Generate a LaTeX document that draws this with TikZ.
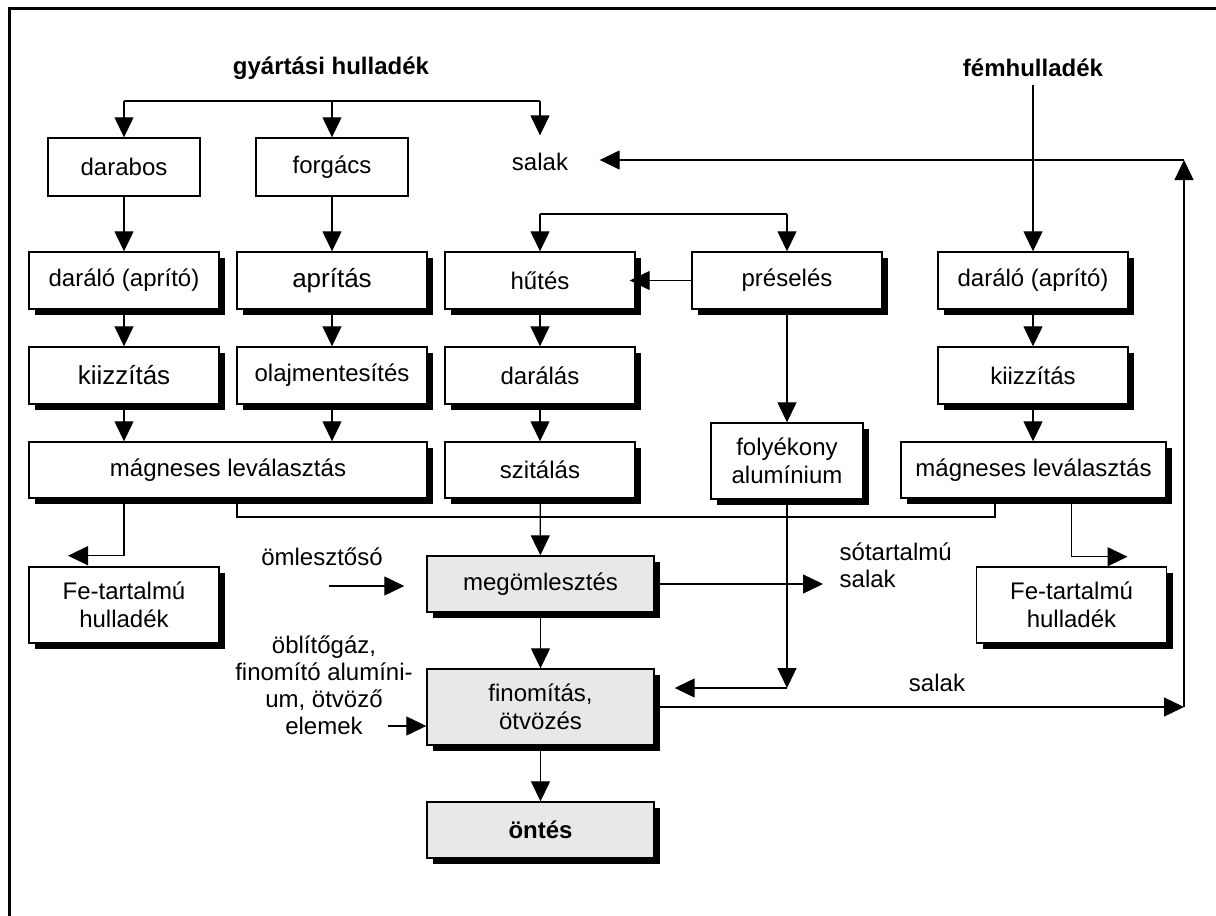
\documentclass[tikz,border=0pt]{standalone}
\usepackage{fontspec}
\setmainfont{Liberation Sans}
\usetikzlibrary{arrows.meta,shadows}
\definecolor{boxgray}{gray}{0.91}
\tikzset{
  box/.style={draw, line width=0.7pt, fill=white, inner sep=0pt, align=center,
    minimum width=95pt, minimum height=28.5pt, font=\fontsize{12}{14}\selectfont},
  shbox/.style={box, drop shadow={fill=black, opacity=1, shadow xshift=3pt, shadow yshift=-3pt}},
  graybox/.style={shbox, fill=boxgray, minimum width=113.5pt},
  big/.style={font=\fontsize{13}{15}\selectfont},
  txt/.style={inner sep=0pt, align=center, font=\fontsize{12}{13.5}\selectfont},
  head/.style={txt, inner sep=3.5pt, font=\fontsize{12}{14}\selectfont\bfseries},
  arr/.style={-{Triangle[width=9.5pt,length=10pt]}}
}
\begin{document}
\begin{tikzpicture}[x=0.5pt,y=-0.5pt,line width=0.65pt]
    \useasboundingbox (0,0) rectangle (1216,916);
    % Frame
    \draw[line width=1.5pt] (9,916) |- (1216,8);

    % Sources
    \node[head] (gyartasi) at (331,68) {gyártási hulladék};
    \node[head] (femhull) at (1033,68) {fémhulladék};

    % First row
    \node[box, minimum width=76pt, minimum height=29pt] (darabos) at (124,167) {darabos};
    \node[box, minimum width=76pt, minimum height=29pt] (forgacs) at (332,167) {forgács};
    \node[txt, minimum width=59pt, minimum height=26pt] (salak) at (540,162) {salak};

    % Second row
    \node[shbox] (daralo1) at (124,280.5) {daráló (aprító)};
    \node[shbox, big] (apritas) at (332,280.5) {aprítás};
    \node[shbox] (hutes) at (540,280.5) {hűtés};
    \node[shbox] (preseles) at (787,280.5) {préselés};
    \node[shbox] (daralo2) at (1033,280.5) {daráló (aprító)};

    % Third row
    \node[shbox, big] (kiizz1) at (124,375.5) {kiizzítás};
    \node[shbox] (olaj) at (332,375.5) {olajmentesítés};
    \node[shbox] (daralas) at (540,375.5) {darálás};
    \node[shbox] (kiizz2) at (1033,375.5) {kiizzítás};

    % Fourth row
    \node[shbox, minimum width=199pt, minimum height=28pt] (magn1) at (228,470) {mágneses leválasztás};
    \node[shbox, minimum height=28pt] (szitalas) at (540,470) {szitálás};
    \node[shbox, minimum width=76pt, minimum height=38pt] (folyekony) at (787,461) {folyékony\\alumínium};
    \node[shbox, minimum width=132.5pt, minimum height=28pt] (magn2) at (1033.5,470) {mágneses leválasztás};

    % Fe waste
    \node[shbox, minimum height=38pt] (fe1) at (124,605) {Fe-tartalmú\\hulladék};
    \node[shbox, minimum height=38pt] (fe2) at (1071.5,605) {Fe-tartalmú\\hulladék};

    % Melting line
    \node[graybox, minimum height=28pt] (megoml) at (540.5,584) {megömlesztés};
    \node[graybox, minimum height=38pt] (finom) at (540.5,707) {finomítás,\\ötvözés};
    \node[graybox, minimum height=28pt, font=\fontsize{12}{14}\selectfont\bfseries] (ontes) at (540.5,830) {öntés};

    % Side labels
    \node[txt] (omlsalt) at (322,557) {ömlesztősó};
    \node[txt] (gas) at (324,685) {öblítőgáz,\\finomító alumíni-\\um, ötvöző\\elemek};
    \node[txt, anchor=west, align=left] (sotart) at (839,565) {sótartalmú\\salak};
    \node[txt] (salak2) at (937,683) {salak};

    % Branch points
    \coordinate (bar) at (331,101);
    \coordinate (split) at (663,214);
    \coordinate (join) at (540,517);
    \coordinate (saltin) at (329,586);
    \coordinate (gasin) at (388,726);
    \coordinate (alin) at (787,688);
    \coordinate (retlow) at (1184,707);
    \coordinate (rethigh) at (1184,160);

    % Production waste
    \draw (bar -| darabos) -- (bar -| salak);
    \draw[arr] (bar -| darabos) -- (darabos);
    \draw[arr] (bar -| forgacs) -- (forgacs);
    \draw[arr] (bar -| salak) -- (salak);
    \draw[arr] (darabos) -- (daralo1);
    \draw[arr] (forgacs) -- (apritas);
    \draw[arr] (daralo1) -- (kiizz1);
    \draw[arr] (apritas) -- (olaj);
    \draw[arr] (kiizz1) -- (kiizz1 |- magn1.north);
    \draw[arr] (olaj) -- (olaj |- magn1.north);
    \draw[arr] (magn1.south -| kiizz1) |- ++(-56,57);

    % Cooling and pressing
    \draw (split -| hutes) -- (split -| preseles);
    \draw[arr] (split -| hutes) -- (hutes);
    \draw[arr] (split -| preseles) -- (preseles);
    \draw[arr, shorten >=-3pt] (preseles) -- (hutes);
    \draw[arr] (hutes) -- (daralas);
    \draw[arr] (daralas) -- (szitalas);
    \draw[arr] (preseles) -- (folyekony);

    % Metal scrap
    \draw[arr] (femhull) -- (daralo2);
    \draw[arr] (daralo2) -- (kiizz2);
    \draw[arr] (kiizz2) -- (kiizz2 |- magn2.north);
    \draw[arr] (magn2.south -| fe2) |- ++(56,58);

    % Collecting line
    \draw ([xshift=4.5pt]magn1.south) |- (join) -| ([xshift=-19.25pt]magn2.south);
    \draw[arr] (szitalas) -- (megoml);

    % Melting, refining, casting
    \draw[arr, shorten >=11pt] (saltin) -- (saltin -| megoml.west);
    \draw[arr, shorten >=8pt] (megoml) -- (megoml -| sotart.west);
    \draw[arr] (megoml) -- (finom);
    \draw[arr] (gasin) -- (gasin -| finom.west);
    \draw[arr] (folyekony) -- (alin);
    \draw[arr, shorten >=10pt] (alin) -- (alin -| finom.east);
    \draw[arr] (finom) -- (ontes);

    % Slag return
    \draw[arr] (finom) -- (retlow);
    \draw[arr] (retlow) -- (rethigh);
    \draw[arr] (rethigh) -- (rethigh -| salak.east);
\end{tikzpicture}
\end{document}
